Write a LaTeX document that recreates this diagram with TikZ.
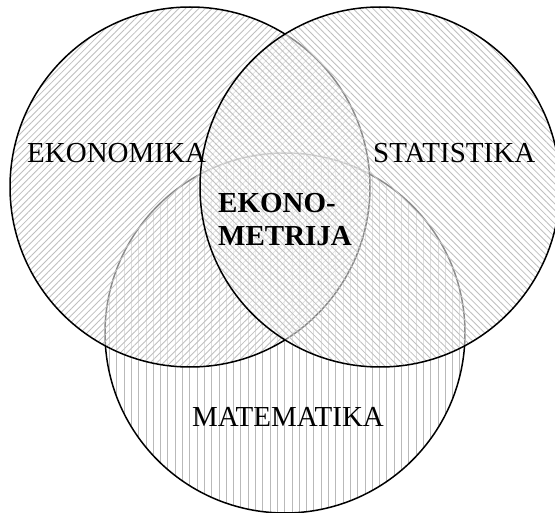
\documentclass[tikz,border=0pt]{standalone}
\usepackage{fontspec}
\setmainfont{Liberation Serif}
\usetikzlibrary{patterns.meta}
\tikzset{
  ring/.style={draw=black, line width=1.5pt},
  wash/.style={fill=white, fill opacity=0.55},
  hatchR/.style={pattern={Lines[angle=45, distance=4.7pt, line width=0.85pt]}, pattern color=gray!50},
  hatchL/.style={pattern={Lines[angle=-45, distance=4.7pt, line width=0.85pt]}, pattern color=gray!50},
  hatchV/.style={pattern={Lines[angle=90, distance=7.3pt, line width=1pt]}, pattern color=gray!55},
  lab/.style={font=\fontsize{29}{33}\selectfont, anchor=base west, inner sep=0pt},
  blab/.style={font=\fontsize{29}{33}\selectfont\bfseries, anchor=base west, inner sep=0pt, align=left}
}
\begin{document}
\begin{tikzpicture}[x=1pt,y=-1pt]
\useasboundingbox (0,0) rectangle (555,513);
\clip (0,0) rectangle (555,513);
\coordinate (cL) at (190,187);
\coordinate (cR) at (380,187);
\coordinate (cB) at (285,333);
% bottom circle
\path[hatchV] (cB) circle[radius=180];
\draw[ring] (cB) circle[radius=180];
% left circle
\path[wash] (cL) circle[radius=180];
\path[hatchR] (cL) circle[radius=180];
\draw[ring] (cL) circle[radius=180];
% right circle
\path[wash] (cR) circle[radius=180];
\path[hatchL] (cR) circle[radius=180];
\draw[ring] (cR) circle[radius=180];
% labels
\node[lab] (eko) at (27,163) {EKONOMIKA};
\node[lab] (sta) at (373,163) {STATISTIKA};
\node[lab] (mat) at (192,427) {MATEMATIKA};
\node[blab] (ekm1) at (218,213) {EKONO-};
\node[blab] (ekm2) at (218,246) {METRIJA};
\end{tikzpicture}
\end{document}
